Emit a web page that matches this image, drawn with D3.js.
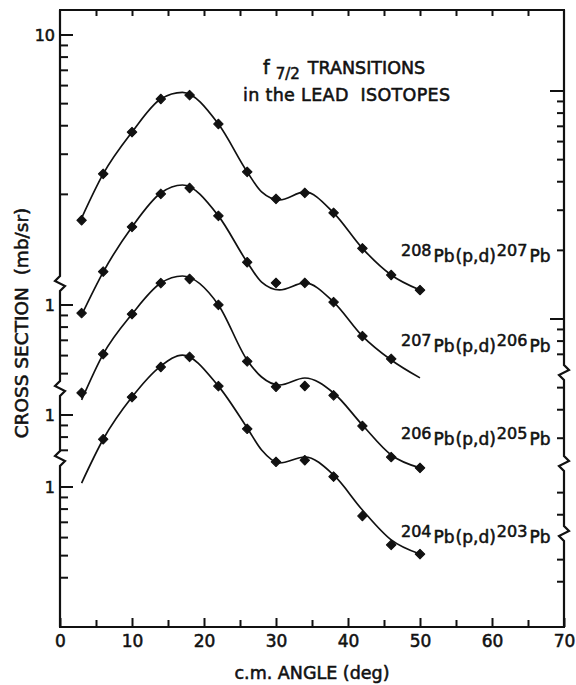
<!DOCTYPE html>
<html>
<head>
<meta charset="utf-8">
<script src="https://cdn.jsdelivr.net/npm/d3@7"></script>
<style>
  body { margin: 0; background: #fff; }
  svg { display: block; }
  text { font-family: "DejaVu Sans", sans-serif; fill: #111; stroke: #111; stroke-width: 0.55px; }
</style>
</head>
<body>
<svg id="chart" width="576" height="685"></svg>
<script>
// c.m. angles of the measured points (deg)
const angles = [3, 6, 10, 14, 18, 22, 26, 30, 34, 38, 42, 46, 50];

// measured cross sections (mb/sr), null where no point was taken
const pb208 = [1.54, 2.46, 3.75, 5.24, 5.45, 4.07, 2.51, 1.91, 2.03, 1.66, 1.16, 0.886, 0.761];
const pb207 = [0.922, 1.40, 2.20, 3.07, 3.26, 2.46, 1.54, 1.25, 1.25, 1.03, 0.731, 0.580, null];
const pb206 = [1.25, 1.85, 2.77, 3.79, 3.95, 3.04, 1.72, 1.33, 1.34, 1.22, 0.895, 0.654, 0.586];
const pb204 = [null, 1.62, 2.48, 3.36, 3.72, 2.77, 1.80, 1.29, 1.31, 1.11, 0.746, 0.557, 0.508];

// the smooth curves drawn through each set
const fitAngles = [3, 6, 10, 14, 17, 22, 26, 28, 30.5, 34, 38, 42, 46, 50];
const fit208 = [1.575, 2.46, 3.75, 5.24, 5.60, 4.07, 2.51, 2.05, 1.89, 2.05, 1.66, 1.16, 0.886, 0.761];
const fit207 = [0.904, 1.395, 2.20, 3.10, 3.36, 2.46, 1.54, 1.26, 1.164, 1.25, 1.03, 0.731, 0.574, 0.479];
const fit206 = [1.164, 1.85, 2.77, 3.79, 4.07, 3.04, 1.74, 1.468, 1.354, 1.453, 1.249, 0.904, 0.668, 0.586];
const fit204 = [1.041, 1.62, 2.48, 3.39, 3.79, 2.77, 1.815, 1.453, 1.274, 1.354, 1.129, 0.793, 0.586, 0.508];

// reactions: [target, residual]
const reactions = [["208", "207"], ["207", "206"], ["206", "205"], ["204", "203"]];

// axis tick values
const xLabels = [0, 10, 20, 30, 40, 50, 60, 70];
const xMinor = [5, 15, 25, 35, 45, 55, 65];
const xTop = [5, 10, 15, 20, 25, 30, 35, 40, 45, 50, 55, 60, 65];
const decadeTop = [10, 9, 8, 7, 6, 5, 4, 3, 2];
const ticksB = [1, 0.9, 0.8, 0.7, 0.6, 0.5];
const ticksC = [1, 0.9, 0.8, 0.7];
const ticksD = [1, 0.9, 0.8, 0.7, 0.6, 0.5, 0.4];
const ticksR1 = [10, 9, 8, 7, 6, 5, 4, 3, 2, 1, 0.9, 0.8, 0.7, 0.5, 0.4, 0.3];
const ticksR3 = [0.5, 0.4];
const ticksR4 = [0.5, 0.4];

const svg = d3.select('#chart');
const plotL = 60, plotR = 564, plotT = 10, plotB = 627;
const decade = 228; // pixels per factor of ten

let x = d3.scaleLinear().domain([0, 70]).range([plotL, plotR]);

// every curve sits on its own shifted log axis
function logAxis(onePx) {
    return d3.scaleLog().domain([1, 10]).range([onePx, onePx - decade]);
}
let y208 = logAxis(263), y207 = logAxis(305), y206 = logAxis(415), y204 = logAxis(487);
let yR1 = logAxis(319), yR3 = logAxis(424), yR4 = logAxis(491);

let series = [
    { pts: pb208, fit: fit208, y: y208, labelY: 262 },
    { pts: pb207, fit: fit207, y: y207, labelY: 352 },
    { pts: pb206, fit: fit206, y: y206, labelY: 445 },
    { pts: pb204, fit: fit204, y: y204, labelY: 543 }
];

// ---- frame with broken vertical axes
function brokenLine(xp, breaks, bend) {
    let d = `M${xp},${plotT}`;
    breaks.forEach(function(b) {
        d += ` L${xp},${b - 7} L${xp - bend},${b - 2} L${xp + bend},${b + 3} L${xp},${b + 8}`;
    });
    return d + ` L${xp},${plotB}`;
}
let frame = svg.append('g')
    .attr('fill', 'none')
    .attr('stroke', '#111')
    .attr('stroke-width', 2.2);
frame.append('path').attr('d', brokenLine(plotL, [283, 388, 458], 5));
frame.append('path').attr('d', brokenLine(plotR, [372, 463, 533], -5));
frame.append('line').attr('x1', plotL - 1).attr('x2', plotR + 1).attr('y1', plotT).attr('y2', plotT);
frame.append('line').attr('x1', plotL - 1).attr('x2', plotR + 1).attr('y1', plotB).attr('y2', plotB);

// ---- bottom axis
let bottomAxis = svg.append('g')
    .attr('transform', `translate(0,${plotB})`)
    .call(d3.axisBottom(x).tickValues(xLabels).tickSizeInner(-9).tickSizeOuter(0).tickPadding(8));
bottomAxis.selectAll('text').attr('font-size', 17).attr('fill', '#111')
    .attr('font-family', '"DejaVu Sans", sans-serif');

let bottomMinor = svg.append('g')
    .attr('transform', `translate(0,${plotB})`)
    .call(d3.axisBottom(x).tickValues(xMinor).tickSizeInner(-7).tickSizeOuter(0).tickFormat(''));

let topAxis = svg.append('g')
    .attr('transform', `translate(0,${plotT})`)
    .call(d3.axisTop(x).tickValues(xTop).tickSizeInner(-6).tickSizeOuter(0).tickFormat(''));

[bottomAxis, bottomMinor, topAxis].forEach(function(g) {
    g.select('.domain').remove();
    g.selectAll('line').attr('stroke', '#111').attr('stroke-width', 2);
});

// ---- left axis, one piece per curve
let leftPieces = [
    { scale: y208, ticks: decadeTop, major: 10, label: '10' },
    { scale: y207, ticks: ticksB, major: 1, label: '1' },
    { scale: y206, ticks: ticksC, major: 1, label: '1' },
    { scale: y204, ticks: ticksD, major: 1, label: '1' }
];
let leftAxis = svg.append('g').attr('stroke', '#111').attr('stroke-width', 2);
leftPieces.forEach(function(p) {
    leftAxis.selectAll(null)
        .data(p.ticks)
        .enter().append('line')
        .attr('x1', plotL)
        .attr('x2', function(d) { return plotL + (d === p.major ? 13 : 8); })
        .attr('y1', function(d) { return p.scale(d); })
        .attr('y2', function(d) { return p.scale(d); });
    svg.append('text')
        .attr('x', 55)
        .attr('y', p.scale(p.major))
        .attr('dy', '0.36em')
        .attr('text-anchor', 'end')
        .attr('font-size', 16)
        .text(p.label);
});

// ---- right axis (ticks only)
let rightPieces = [
    { scale: yR1, ticks: ticksR1 },
    { scale: yR3, ticks: ticksR3 },
    { scale: yR4, ticks: ticksR4 }
];
let rightAxis = svg.append('g').attr('stroke', '#111').attr('stroke-width', 2);
rightPieces.forEach(function(p) {
    rightAxis.selectAll(null)
        .data(p.ticks)
        .enter().append('line')
        .attr('x1', plotR)
        .attr('x2', function(d) { return plotR - (d === 10 || d === 1 ? 14 : 7); })
        .attr('y1', function(d) { return p.scale(d); })
        .attr('y2', function(d) { return p.scale(d); });
});

// ---- curves and points
let line = d3.line()
    .x(function(d) { return x(d[0]); })
    .curve(d3.curveMonotoneX);
let diamond = d3.symbol().type(d3.symbolSquare).size(46);

series.forEach(function(s, i) {
    let fitPts = fitAngles.map(function(a, j) { return [a, s.fit[j]]; });
    svg.append('path')
        .datum(fitPts)
        .attr('fill', 'none')
        .attr('stroke', '#111')
        .attr('stroke-width', 1.7)
        .attr('d', line.y(function(d) { return s.y(d[1]); }));

    let pts = angles.map(function(a, j) { return [a, s.pts[j]]; })
        .filter(function(d) { return d[1] !== null; });
    svg.append('g').selectAll('path')
        .data(pts)
        .enter().append('path')
        .attr('d', diamond)
        .attr('fill', '#111')
        .attr('stroke', '#111')
        .attr('stroke-width', 1)
        .attr('stroke-linejoin', 'round')
        .attr('transform', function(d) {
            return `translate(${x(d[0])},${s.y(d[1])}) rotate(45)`;
        });

    // reaction label, e.g. 208Pb(p,d)207Pb
    let r = reactions[i];
    let t = svg.append('text')
        .attr('x', 401)
        .attr('y', s.labelY)
        .attr('font-size', 17);
    t.append('tspan').attr('dy', -6).attr('font-size', 16).text(r[0]);
    t.append('tspan').attr('dy', 6).attr('dx', 2).text('Pb');
    t.append('tspan').attr('dx', 1).text('(p,d)');
    t.append('tspan').attr('dy', -6).attr('dx', 1).attr('font-size', 16).text(r[1]);
    t.append('tspan').attr('dy', 6).attr('dx', 2).text('Pb');
});

// ---- titles
let title = svg.append('text').attr('x', 263).attr('y', 74).attr('font-size', 17.5);
title.append('tspan').attr('font-size', 19).text('f');
title.append('tspan').attr('dx', 6).attr('dy', 5).attr('font-size', 15).text('7/2');
title.append('tspan').attr('dx', 8).attr('dy', -5).text('TRANSITIONS');

svg.append('text')
    .attr('x', 243).attr('y', 101)
    .attr('font-size', 17.5)
    .attr('textLength', 207)
    .attr('lengthAdjust', 'spacing')
    .style('white-space', 'pre')
    .text('in the LEAD  ISOTOPES');

svg.append('text')
    .attr('x', (plotL + plotR) / 2).attr('y', 679)
    .attr('text-anchor', 'middle')
    .attr('font-size', 17.5)
    .text('c.m. ANGLE (deg)');

svg.append('text')
    .attr('transform', 'translate(28,323) rotate(-90)')
    .attr('text-anchor', 'middle')
    .attr('font-size', 18.5)
    .style('white-space', 'pre')
    .text('CROSS SECTION  (mb/sr)');
</script>
</body>
</html>
